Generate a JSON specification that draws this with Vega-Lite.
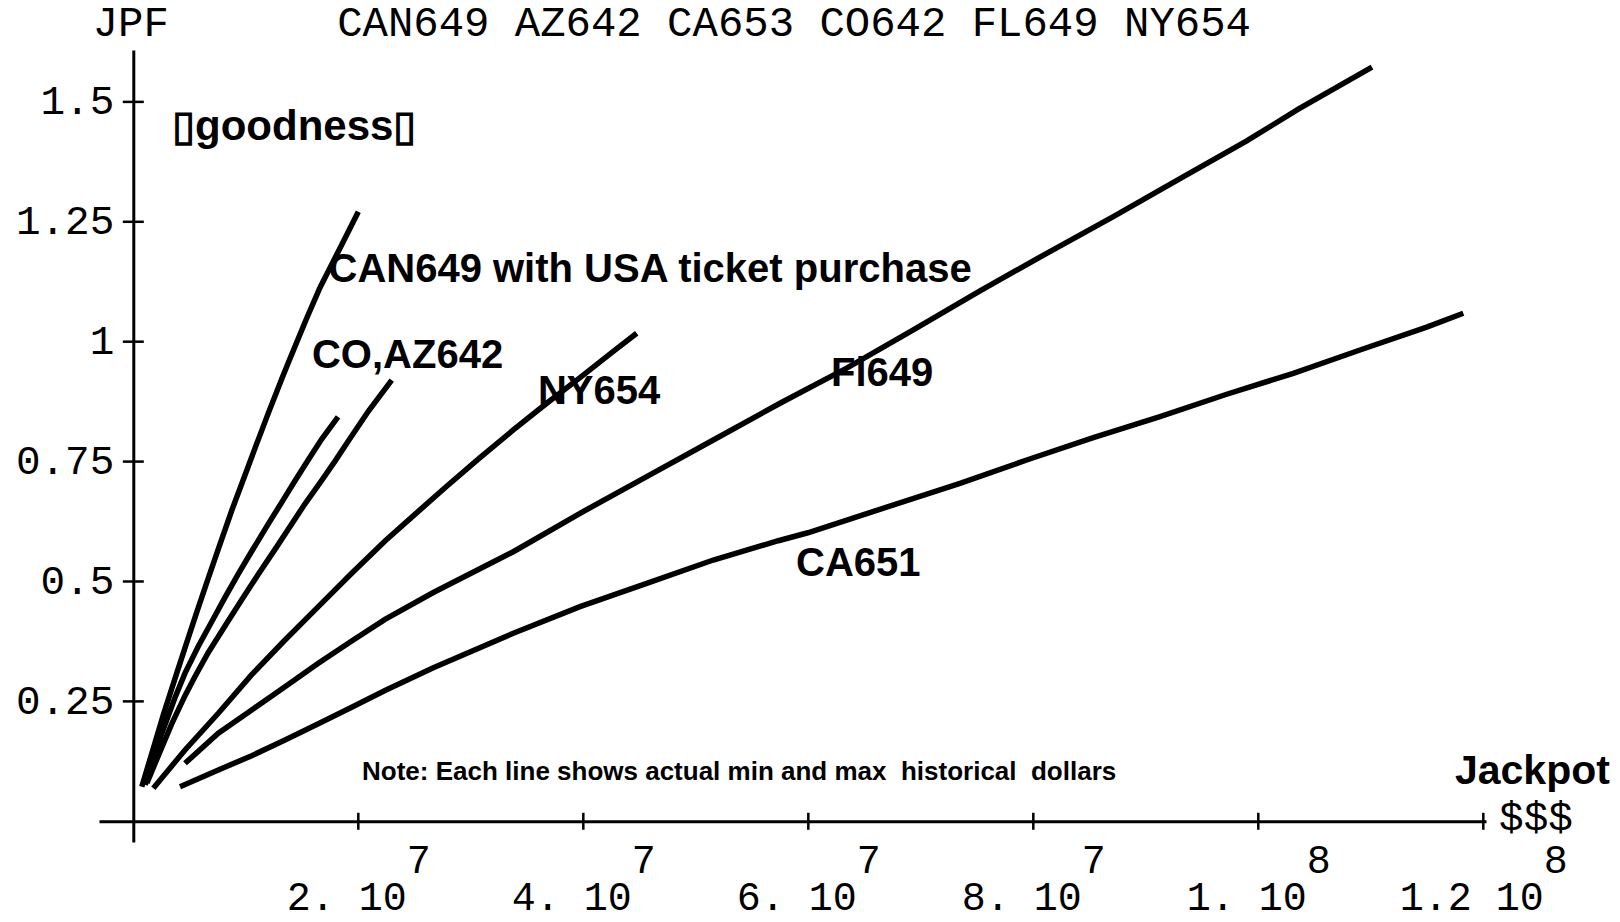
{
  "$schema": "https://vega.github.io/schema/vega-lite/v6.json",
  "width": 1387,
  "height": 792,
  "autosize": {"type": "none"},
  "padding": {"left": 99, "top": 50, "right": 134, "bottom": 80},
  "background": "white",
  "config": {"view": {"stroke": null}, "axis": {"grid": false}},
  "resolve": {"axis": {"x": "independent"}},
  "datasets": {
    "lines": [
      {"series": "CAN649 with USA", "jackpot": 750000, "jpf": 0.072},
      {"series": "CAN649 with USA", "jackpot": 1780000, "jpf": 0.152},
      {"series": "CAN649 with USA", "jackpot": 2670000, "jpf": 0.222},
      {"series": "CAN649 with USA", "jackpot": 3710000, "jpf": 0.298},
      {"series": "CAN649 with USA", "jackpot": 4600000, "jpf": 0.362},
      {"series": "CAN649 with USA", "jackpot": 5640000, "jpf": 0.436},
      {"series": "CAN649 with USA", "jackpot": 6520000, "jpf": 0.497},
      {"series": "CAN649 with USA", "jackpot": 7560000, "jpf": 0.568},
      {"series": "CAN649 with USA", "jackpot": 8750000, "jpf": 0.648},
      {"series": "CAN649 with USA", "jackpot": 9930000, "jpf": 0.722},
      {"series": "CAN649 with USA", "jackpot": 10820000, "jpf": 0.778},
      {"series": "CAN649 with USA", "jackpot": 12000000, "jpf": 0.851},
      {"series": "CAN649 with USA", "jackpot": 13190000, "jpf": 0.922},
      {"series": "CAN649 with USA", "jackpot": 13930000, "jpf": 0.965},
      {"series": "CAN649 with USA", "jackpot": 15410000, "jpf": 1.049},
      {"series": "CAN649 with USA", "jackpot": 16600000, "jpf": 1.113},
      {"series": "CAN649 with USA", "jackpot": 18370000, "jpf": 1.195},
      {"series": "CAN649 with USA", "jackpot": 20000000, "jpf": 1.271},
      {"series": "CO642", "jackpot": 1050000, "jpf": 0.076},
      {"series": "CO642", "jackpot": 1485000, "jpf": 0.107},
      {"series": "CO642", "jackpot": 2524000, "jpf": 0.183},
      {"series": "CO642", "jackpot": 3707000, "jpf": 0.258},
      {"series": "CO642", "jackpot": 4596000, "jpf": 0.309},
      {"series": "CO642", "jackpot": 5778000, "jpf": 0.365},
      {"series": "CO642", "jackpot": 6969000, "jpf": 0.416},
      {"series": "CO642", "jackpot": 8151000, "jpf": 0.467},
      {"series": "CO642", "jackpot": 9333000, "jpf": 0.516},
      {"series": "CO642", "jackpot": 10524000, "jpf": 0.563},
      {"series": "CO642", "jackpot": 12000000, "jpf": 0.62},
      {"series": "CO642", "jackpot": 13191000, "jpf": 0.665},
      {"series": "CO642", "jackpot": 14373000, "jpf": 0.71},
      {"series": "CO642", "jackpot": 15556000, "jpf": 0.754},
      {"series": "CO642", "jackpot": 16747000, "jpf": 0.797},
      {"series": "CO642", "jackpot": 18200000, "jpf": 0.843},
      {"series": "AZ642", "jackpot": 1218000, "jpf": 0.08},
      {"series": "AZ642", "jackpot": 2222000, "jpf": 0.137},
      {"series": "AZ642", "jackpot": 3413000, "jpf": 0.203},
      {"series": "AZ642", "jackpot": 4596000, "jpf": 0.262},
      {"series": "AZ642", "jackpot": 5484000, "jpf": 0.302},
      {"series": "AZ642", "jackpot": 6667000, "jpf": 0.352},
      {"series": "AZ642", "jackpot": 8444000, "jpf": 0.418},
      {"series": "AZ642", "jackpot": 9636000, "jpf": 0.462},
      {"series": "AZ642", "jackpot": 11111000, "jpf": 0.515},
      {"series": "AZ642", "jackpot": 12596000, "jpf": 0.567},
      {"series": "AZ642", "jackpot": 14080000, "jpf": 0.62},
      {"series": "AZ642", "jackpot": 15262000, "jpf": 0.662},
      {"series": "AZ642", "jackpot": 16747000, "jpf": 0.711},
      {"series": "AZ642", "jackpot": 17929000, "jpf": 0.751},
      {"series": "AZ642", "jackpot": 19111000, "jpf": 0.793},
      {"series": "AZ642", "jackpot": 20889000, "jpf": 0.855},
      {"series": "AZ642", "jackpot": 22969000, "jpf": 0.92},
      {"series": "NY654", "jackpot": 1778000, "jpf": 0.0688},
      {"series": "NY654", "jackpot": 4596000, "jpf": 0.1487},
      {"series": "NY654", "jackpot": 7556000, "jpf": 0.2252},
      {"series": "NY654", "jackpot": 10524000, "jpf": 0.3056},
      {"series": "NY654", "jackpot": 13484000, "jpf": 0.378},
      {"series": "NY654", "jackpot": 16444000, "jpf": 0.4475},
      {"series": "NY654", "jackpot": 19413000, "jpf": 0.5171},
      {"series": "NY654", "jackpot": 22373000, "jpf": 0.5845},
      {"series": "NY654", "jackpot": 25333000, "jpf": 0.6461},
      {"series": "NY654", "jackpot": 27858000, "jpf": 0.6987},
      {"series": "NY654", "jackpot": 30818000, "jpf": 0.7582},
      {"series": "NY654", "jackpot": 33778000, "jpf": 0.8159},
      {"series": "NY654", "jackpot": 36747000, "jpf": 0.8716},
      {"series": "NY654", "jackpot": 39707000, "jpf": 0.925},
      {"series": "NY654", "jackpot": 42667000, "jpf": 0.9797},
      {"series": "NY654", "jackpot": 44747000, "jpf": 1.0175},
      {"series": "FL649", "jackpot": 4596000, "jpf": 0.1209},
      {"series": "FL649", "jackpot": 7556000, "jpf": 0.1835},
      {"series": "FL649", "jackpot": 10524000, "jpf": 0.2321},
      {"series": "FL649", "jackpot": 13484000, "jpf": 0.2807},
      {"series": "FL649", "jackpot": 16444000, "jpf": 0.3294},
      {"series": "FL649", "jackpot": 19413000, "jpf": 0.376},
      {"series": "FL649", "jackpot": 22373000, "jpf": 0.421},
      {"series": "FL649", "jackpot": 26667000, "jpf": 0.477},
      {"series": "FL649", "jackpot": 33778000, "jpf": 0.562},
      {"series": "FL649", "jackpot": 39707000, "jpf": 0.6422},
      {"series": "FL649", "jackpot": 45636000, "jpf": 0.7185},
      {"series": "FL649", "jackpot": 51556000, "jpf": 0.795},
      {"series": "FL649", "jackpot": 57484000, "jpf": 0.8716},
      {"series": "FL649", "jackpot": 63413000, "jpf": 0.945},
      {"series": "FL649", "jackpot": 69333000, "jpf": 1.0244},
      {"series": "FL649", "jackpot": 75262000, "jpf": 1.106},
      {"series": "FL649", "jackpot": 81191000, "jpf": 1.1843},
      {"series": "FL649", "jackpot": 87111000, "jpf": 1.2607},
      {"series": "FL649", "jackpot": 93040000, "jpf": 1.3401},
      {"series": "FL649", "jackpot": 98969000, "jpf": 1.4186},
      {"series": "FL649", "jackpot": 103556000, "jpf": 1.4847},
      {"series": "FL649", "jackpot": 110107000, "jpf": 1.5723},
      {"series": "CA651", "jackpot": 4151000, "jpf": 0.0721},
      {"series": "CA651", "jackpot": 7556000, "jpf": 0.107},
      {"series": "CA651", "jackpot": 10524000, "jpf": 0.1367},
      {"series": "CA651", "jackpot": 13484000, "jpf": 0.1695},
      {"series": "CA651", "jackpot": 16444000, "jpf": 0.2033},
      {"series": "CA651", "jackpot": 19413000, "jpf": 0.2379},
      {"series": "CA651", "jackpot": 22373000, "jpf": 0.2728},
      {"series": "CA651", "jackpot": 26667000, "jpf": 0.32},
      {"series": "CA651", "jackpot": 33778000, "jpf": 0.392},
      {"series": "CA651", "jackpot": 39707000, "jpf": 0.4475},
      {"series": "CA651", "jackpot": 45636000, "jpf": 0.4962},
      {"series": "CA651", "jackpot": 51556000, "jpf": 0.5448},
      {"series": "CA651", "jackpot": 57333000, "jpf": 0.585},
      {"series": "CA651", "jackpot": 59960000, "jpf": 0.6016},
      {"series": "CA651", "jackpot": 73484000, "jpf": 0.7048},
      {"series": "CA651", "jackpot": 79413000, "jpf": 0.7533},
      {"series": "CA651", "jackpot": 85333000, "jpf": 0.7999},
      {"series": "CA651", "jackpot": 91262000, "jpf": 0.8436},
      {"series": "CA651", "jackpot": 97191000, "jpf": 0.8904},
      {"series": "CA651", "jackpot": 103111000, "jpf": 0.9341},
      {"series": "CA651", "jackpot": 109040000, "jpf": 0.9827},
      {"series": "CA651", "jackpot": 114969000, "jpf": 1.0304},
      {"series": "CA651", "jackpot": 118222000, "jpf": 1.0592}
    ]
  },
  "layer": [
    {
      "data": {"name": "lines"},
      "mark": {"type": "line", "color": "black", "strokeWidth": 5.5},
      "encoding": {
        "x": {
          "field": "jackpot", "type": "quantitative",
          "scale": {"domain": [-3050000, 120239000], "nice": false, "zero": false},
          "axis": {
            "title": null, "orient": "bottom", "offset": -20.7,
            "values": [20000000, 40000000, 60000000, 80000000, 100000000, 120000000],
            "ticks": false, "domainColor": "black", "domainWidth": 3,
            "labelFont": "Liberation Mono", "labelFontSize": 40, "labelColor": "black",
            "labelPadding": 56, "labelBaseline": "top", "labelOffset": -12,
            "labelFlush": false, "labelOverlap": false, "labelBound": false,
            "labelExpr": "datum.value == 120000000 ? '1.2 10' : datum.value == 100000000 ? '1. 10' : (datum.value / 10000000) + '. 10'"
          }
        },
        "y": {
          "field": "jpf", "type": "quantitative",
          "scale": {"domain": [-0.0432, 1.6082], "nice": false, "zero": false},
          "axis": {
            "title": null, "orient": "left", "offset": -34.3,
            "values": [0.25, 0.5, 0.75, 1, 1.25, 1.5],
            "ticks": false, "domainColor": "black", "domainWidth": 3,
            "labelFont": "Liberation Mono", "labelFontSize": 41, "labelColor": "black",
            "labelPadding": 19.5, "labelExpr": "datum.value + ''",
            "labelFlush": false, "labelOverlap": false, "labelBound": false
          }
        },
        "detail": {"field": "series"}
      }
    },
    {
      "data": {"values": [{"t": 0.25}, {"t": 0.5}, {"t": 0.75}, {"t": 1}, {"t": 1.25}, {"t": 1.5}]},
      "mark": {"type": "tick", "orient": "horizontal", "color": "black", "size": 21, "thickness": 2.5, "opacity": 1},
      "encoding": {
        "x": {"datum": 0, "type": "quantitative", "axis": null},
        "y": {"field": "t", "type": "quantitative"}
      }
    },
    {
      "data": {"values": [{"t": 20000000}, {"t": 40000000}, {"t": 60000000}, {"t": 80000000}, {"t": 100000000}, {"t": 120000000}]},
      "mark": {"type": "tick", "orient": "vertical", "color": "black", "size": 17, "thickness": 2.5, "opacity": 1},
      "encoding": {
        "x": {
          "field": "t", "type": "quantitative",
          "axis": {
            "title": null, "orient": "bottom", "offset": -20.7,
            "values": [20000000, 40000000, 60000000, 80000000, 100000000, 120000000],
            "ticks": false, "domain": false,
            "labelFont": "Liberation Mono", "labelFontSize": 40, "labelColor": "black",
            "labelPadding": 19, "labelBaseline": "top",
            "labelOffset": {"condition": {"test": "datum.value == 120000000", "value": 72}, "value": 60},
            "labelFlush": false, "labelOverlap": false, "labelBound": false,
            "labelExpr": "datum.value >= 100000000 ? '8' : '7'"
          }
        },
        "y": {"datum": 0, "type": "quantitative"}
      }
    },
    {
      "data": {"values": [
        {"label": "CAN649 with USA ticket purchase", "lx": 17350000, "ly": 1.1245},
        {"label": "CO,AZ642", "lx": 15880000, "ly": 0.9452},
        {"label": "NY654", "lx": 35970000, "ly": 0.8701},
        {"label": "Fl649", "lx": 62020000, "ly": 0.9076},
        {"label": "CA651", "lx": 58910000, "ly": 0.5104}
      ]},
      "mark": {"type": "text", "align": "left", "baseline": "alphabetic", "font": "Liberation Sans", "fontWeight": "bold", "fontSize": 40, "color": "black"},
      "encoding": {
        "x": {"field": "lx", "type": "quantitative", "axis": null},
        "y": {"field": "ly", "type": "quantitative"},
        "text": {"field": "label"}
      }
    },
    {
      "data": {"values": [{"label": "\u25afgoodness\u25af", "lx": 3440000, "ly": 1.4206}]},
      "mark": {"type": "text", "align": "left", "baseline": "alphabetic", "font": "Liberation Sans", "fontWeight": "bold", "fontSize": 42, "color": "black"},
      "encoding": {
        "x": {"field": "lx", "type": "quantitative", "axis": null},
        "y": {"field": "ly", "type": "quantitative"},
        "text": {"field": "label"}
      }
    },
    {
      "data": {"values": [{"label": "Jackpot", "lx": 117480000, "ly": 0.0778}]},
      "mark": {"type": "text", "align": "left", "baseline": "alphabetic", "font": "Liberation Sans", "fontWeight": "bold", "fontSize": 41, "color": "black"},
      "encoding": {
        "x": {"field": "lx", "type": "quantitative", "axis": null},
        "y": {"field": "ly", "type": "quantitative"},
        "text": {"field": "label"}
      }
    },
    {
      "data": {"values": [{"label": "Note: Each line shows actual min and max\u00a0 historical\u00a0 dollars", "lx": 20330000, "ly": 0.0861}]},
      "mark": {"type": "text", "align": "left", "baseline": "alphabetic", "font": "Liberation Sans", "fontWeight": "bold", "fontSize": 26, "color": "black"},
      "encoding": {
        "x": {"field": "lx", "type": "quantitative", "axis": null},
        "y": {"field": "ly", "type": "quantitative"},
        "text": {"field": "label"}
      }
    },
    {
      "data": {"values": [{"label": "$$$", "lx": 121400000, "ly": -0.018}]},
      "mark": {"type": "text", "align": "left", "baseline": "alphabetic", "font": "Liberation Mono", "fontSize": 41, "color": "black"},
      "encoding": {
        "x": {"field": "lx", "type": "quantitative", "axis": null},
        "y": {"field": "ly", "type": "quantitative"},
        "text": {"field": "label"}
      }
    },
    {
      "data": {"values": [
        {"label": "JPF", "lx": -230000, "ly": 1.6374},
        {"label": "CAN649 AZ642 CA653 CO642 FL649 NY654", "lx": 58730000, "ly": 1.6374}
      ]},
      "mark": {"type": "text", "align": "center", "baseline": "alphabetic", "font": "Liberation Mono", "fontSize": 42.3, "color": "black"},
      "encoding": {
        "x": {"field": "lx", "type": "quantitative", "axis": null},
        "y": {"field": "ly", "type": "quantitative"},
        "text": {"field": "label"}
      }
    }
  ]
}
